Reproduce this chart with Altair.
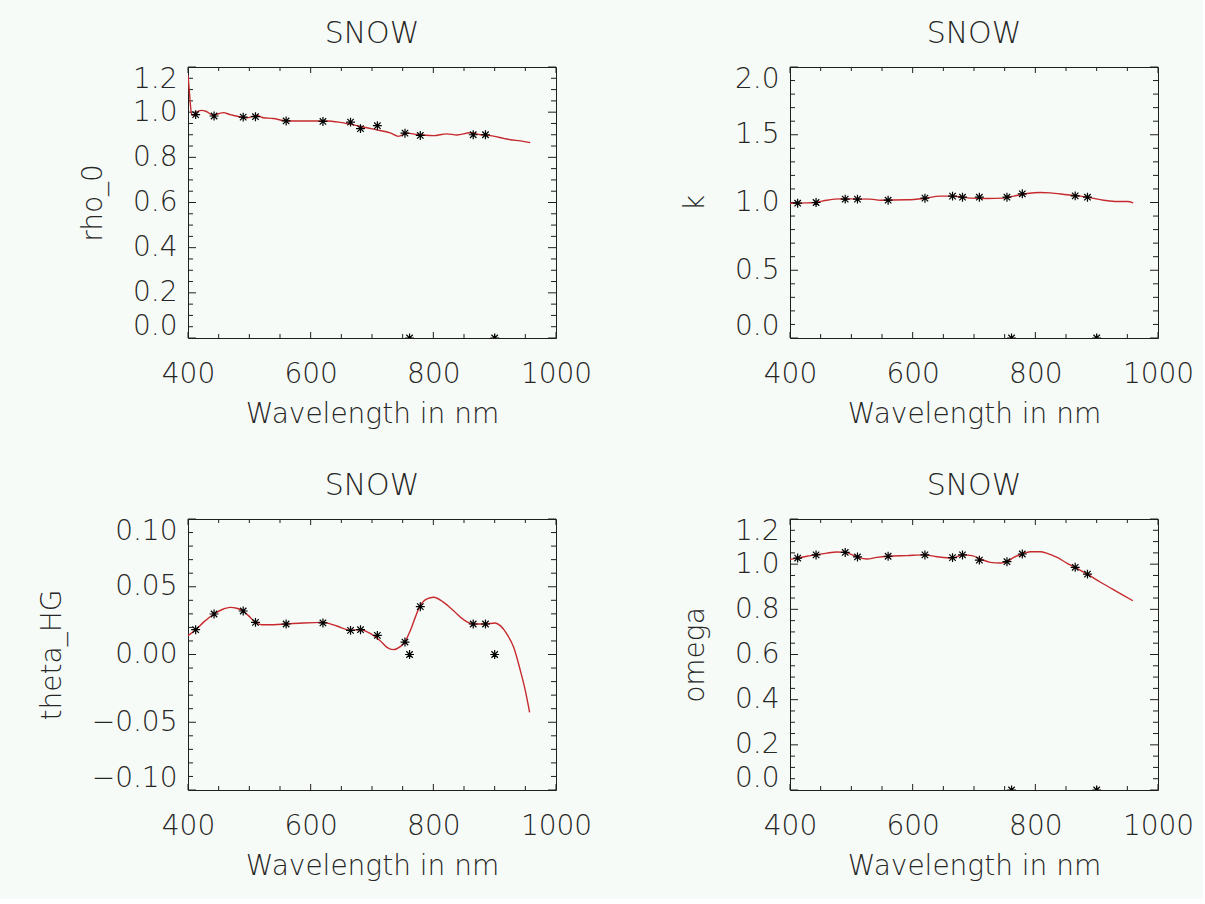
import altair as alt
import pandas as pd

# Spectral bands (nm) at which the coefficients were retrieved
bands = [412.5, 442.5, 490, 510, 560, 620, 665, 681.25, 708.75, 753.75,
         761.25, 778.75, 865, 885, 900]

# Retrieved values per band
rho0_pts = [0.989, 0.983, 0.978, 0.980, 0.961, 0.959, 0.956, 0.927, 0.940,
            0.907, 0.0, 0.897, 0.900, 0.900, 0.0]
k_pts = [0.995, 1.000, 1.025, 1.025, 1.017, 1.032, 1.047, 1.039, 1.039,
         1.039, 0.0, 1.064, 1.049, 1.039, 0.0]
theta_pts = [0.0183, 0.0299, 0.0321, 0.0237, 0.0225, 0.0233, 0.0178, 0.0183,
             0.0141, 0.0092, 0.0, 0.0353, 0.0225, 0.0225, 0.0]
omega_pts = [1.027, 1.041, 1.052, 1.032, 1.035, 1.041, 1.029, 1.041, 1.018,
             1.011, 0.0, 1.045, 0.986, 0.956, 0.0]

# Continuous fitted spectra
rho0_wl = [400, 402, 404, 406, 408.7, 414, 422, 430, 441, 449.5, 457.7, 468.6,
           482, 495.8, 512, 523, 539, 555.6, 566, 593.7, 626, 648, 670, 691.6,
           713, 729.7, 743, 757, 773, 800, 822, 838.5, 860, 876.6, 898, 914.7,
           925.6, 942, 958]
rho0_fit = [1.163, 1.10, 1.03, 0.99, 0.986, 1.000, 1.008, 1.003, 0.986, 0.993,
            0.998, 0.989, 0.981, 0.975, 0.986, 0.975, 0.972, 0.963, 0.961,
            0.961, 0.961, 0.955, 0.944, 0.931, 0.919, 0.908, 0.893, 0.907,
            0.901, 0.896, 0.904, 0.899, 0.909, 0.900, 0.894, 0.884, 0.878,
            0.873, 0.865]

k_wl = [400, 427, 443.5, 460, 481.7, 530.6, 547, 590.5, 617.7, 645, 661, 677.6,
        694, 721, 748, 764.7, 786.5, 808, 824.6, 851.8, 873.6, 890, 911.7,
        933.5, 950, 959.6]
k_fit = [0.995, 0.997, 1.002, 1.017, 1.027, 1.025, 1.017, 1.020, 1.030, 1.047,
         1.047, 1.042, 1.032, 1.030, 1.032, 1.047, 1.066, 1.074, 1.071, 1.057,
         1.047, 1.034, 1.017, 1.007, 1.007, 0.997]

theta_wl = [400, 412.5, 425, 442.4, 457.7, 468.6, 479.4, 489.8, 498.5, 509.9,
            520.2, 539.3, 560, 588.3, 619.3, 642.7, 665, 681.3, 697, 713.4,
            724.3, 735.1, 746, 753.6, 762.4, 770.5, 777.6, 789.6, 800.4, 816.8,
            833, 849.4, 864.6, 883.7, 901, 909.2, 920, 931, 941.9, 950, 957]
theta_fit = [0.0139, 0.0183, 0.0237, 0.0299, 0.0336, 0.0348, 0.0341, 0.0321,
             0.0287, 0.0237, 0.022, 0.022, 0.0225, 0.0233, 0.0237, 0.021,
             0.018, 0.0183, 0.0156, 0.0102, 0.0053, 0.0036, 0.0058, 0.0092,
             0.0176, 0.0274, 0.0353, 0.041, 0.0422, 0.0385, 0.0323, 0.0257,
             0.0225, 0.0225, 0.0233, 0.0213, 0.0151, 0.0053, -0.0119, -0.0267,
             -0.0427]

omega_wl = [400, 412.5, 427.2, 441.9, 459.9, 476.2, 490.4, 509.4, 525.2, 541.5,
            560, 590.5, 618.8, 639.5, 665.1, 681.4, 696.7, 710.3, 726.6, 743,
            753.8, 764.7, 778.3, 791.9, 808.3, 819.2, 835.5, 851.8, 864.3,
            884.5, 906.3, 928, 944.4, 959]
omega_fit = [1.021, 1.027, 1.035, 1.041, 1.049, 1.054, 1.052, 1.032, 1.023,
             1.030, 1.035, 1.038, 1.041, 1.033, 1.027, 1.041, 1.038, 1.023,
             1.008, 1.005, 1.011, 1.030, 1.045, 1.055, 1.055, 1.048, 1.030,
             1.004, 0.986, 0.956, 0.920, 0.886, 0.861, 0.838]

# Axis ticks
x_major = [400, 600, 800, 1000]
x_minor = [450, 500, 550, 650, 700, 750, 850, 900, 950]
unit_major = [0.0, 0.2, 0.4, 0.6, 0.8, 1.0, 1.2]
unit_minor = [0.05, 0.1, 0.15, 0.25, 0.3, 0.35, 0.45, 0.5, 0.55, 0.65, 0.7,
              0.75, 0.85, 0.9, 0.95, 1.05, 1.1, 1.15]
k_major = [0.0, 0.5, 1.0, 1.5, 2.0]
k_minor = [0.1, 0.2, 0.3, 0.4, 0.6, 0.7, 0.8, 0.9, 1.1, 1.2, 1.3, 1.4, 1.6,
           1.7, 1.8, 1.9]
theta_major = [-0.1, -0.05, 0.0, 0.05, 0.1]
theta_minor = [-0.09, -0.08, -0.07, -0.06, -0.04, -0.03, -0.02, -0.01, 0.01,
               0.02, 0.03, 0.04, 0.06, 0.07, 0.08, 0.09]

W, H = 368, 271
FONT = "DejaVu Sans"
INK = "#262626"
FRAME = "#1e1e1e"
FIT_RED = "#c62a2e"
BG = "#f7fbf7"
ASTERISK = "M-1,0L1,0M0,-1L0,1M-0.72,-0.72L0.72,0.72M-0.72,0.72L0.72,-0.72"


def make_panel(curve_wl, curve_val, pts, ytitle, ydom, ymaj, ymin, yfmt):
    xs = alt.Scale(domain=[400, 1000], nice=False, zero=False)
    ys = alt.Scale(domain=ydom, nice=False, zero=False)
    xax = alt.Axis(values=x_major, format="d", title="Wavelength in nm",
                   ticks=False, tickSize=0, domain=False, grid=False,
                   labelPadding=22, titlePadding=12, labelFlush=False)
    yax = alt.Axis(values=ymaj, format=yfmt, title=ytitle, ticks=False,
                   tickSize=0, domain=False, grid=False, labelPadding=11,
                   titlePadding=25, labelFlush=True, labelFlushOffset=2)

    def X(f):
        return alt.X(f, type="quantitative", scale=xs, axis=xax)

    def Y(f):
        return alt.Y(f, type="quantitative", scale=ys, axis=yax)

    layers = []
    # inward-pointing ticks on all four sides of the frame
    for vals, L in ((x_major, 6), (x_minor, 4)):
        src = pd.DataFrame({"t": vals})
        layers.append(alt.Chart(src).mark_rule(color=FRAME, strokeWidth=1).encode(
            x=X("t"), y=alt.value(H), y2=alt.value(H - L)))
        layers.append(alt.Chart(src).mark_rule(color=FRAME, strokeWidth=1).encode(
            x=X("t"), y=alt.value(0), y2=alt.value(L)))
    for vals, L in ((ymaj, 8), (ymin, 5)):
        src = pd.DataFrame({"t": vals})
        layers.append(alt.Chart(src).mark_rule(color=FRAME, strokeWidth=1).encode(
            y=Y("t"), x=alt.value(0), x2=alt.value(L)))
        layers.append(alt.Chart(src).mark_rule(color=FRAME, strokeWidth=1).encode(
            y=Y("t"), x=alt.value(W), x2=alt.value(W - L)))

    curve = alt.Chart(pd.DataFrame({"wl": curve_wl, "v": curve_val})).mark_line(
        color=FIT_RED, strokeWidth=1.4, clip=True, interpolate="monotone"
    ).encode(x=X("wl"), y=Y("v"))
    stars = alt.Chart(pd.DataFrame({"wl": bands, "v": pts})).mark_point(
        shape=ASTERISK, size=80, filled=False, stroke="black", strokeWidth=1.2,
        opacity=1, clip=True
    ).encode(x=X("wl"), y=Y("v"))
    layers += [curve, stars]
    return alt.layer(*layers).properties(
        width=W, height=H, title=alt.TitleParams("SNOW", offset=16))


p1 = make_panel(rho0_wl, rho0_fit, rho0_pts, "rho_0", [0, 1.2], unit_major, unit_minor, ".1f")
p2 = make_panel(k_wl, k_fit, k_pts, "k", [0, 2.0], k_major, k_minor, ".1f")
p3 = make_panel(theta_wl, theta_fit, theta_pts, "theta_HG", [-0.1, 0.1], theta_major, theta_minor, ".2f")
p4 = make_panel(omega_wl, omega_fit, omega_pts, "omega", [0, 1.2], unit_major, unit_minor, ".1f")

chart = alt.concat(
    p1, p2, p3, p4, columns=2, spacing={"row": 181, "column": 234}, bounds="flush"
).properties(
    background=BG,
    padding={"left": 37, "top": 18, "right": 8, "bottom": 18},
).configure_view(
    stroke=FRAME, strokeWidth=1
).configure_axis(
    labelFont=FONT, labelFontSize=28, labelFontWeight=200, labelColor=INK,
    titleFont=FONT, titleFontSize=28, titleFontWeight=200, titleColor=INK,
).configure_title(
    font=FONT, fontSize=30, fontWeight=200, color=INK, anchor="middle"
)

chart.save("out.html", embed_options={"renderer": "svg", "actions": False})
